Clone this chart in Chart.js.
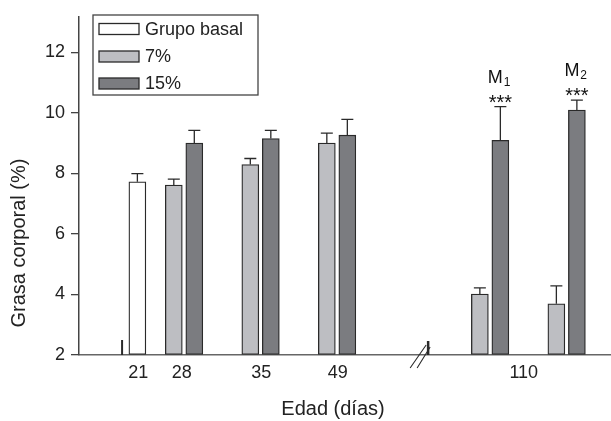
<!DOCTYPE html>
<html><head><meta charset="utf-8">
<script src="https://cdn.jsdelivr.net/npm/chart.js@4/dist/chart.umd.min.js"></script>
<style>html,body{margin:0;padding:0;background:#fff}#wrap{width:611px;height:421px}</style>
</head><body><div id="wrap"><canvas id="c" width="611" height="421"></canvas></div>
<script>
// ---- data ----
const seriesNames = ['Grupo basal', '7%', '15%'];
const ageLabels = ['21', '28', '35', '49', '110'];
const treatedGroups = ['28', '35', '49', 'M1', 'M2'];
const basalValue = [7.72];
const basalError = [0.27];
const values7 = [7.61, 8.29, 9.00, 4.01, 3.69];
const errors7 = [0.20, 0.20, 0.33, 0.21, 0.59];
const values15 = [9.00, 9.15, 9.26, 9.09, 10.09];
const errors15 = [0.42, 0.27, 0.52, 1.11, 0.33];
const significance = ['', '', '', '***', '***'];
const groupNote = ['', '', '', 'M', 'M'];
const groupNoteSub = ['', '', '', '1', '2'];
const yTicks = [2, 4, 6, 8, 10, 12];
const yTitle = 'Grasa corporal (%)';
const xTitle = 'Edad (días)';

// ---- layout (ordinal slot positions along the x axis) ----
const basalSlot = [1.39];
const treatedSlot = [2, 3, 4, 6, 7];
const ageLabelSlot = [1.40, 1.97, 3.01, 4.01, 6.44];
const pairOffset = 0.134;
const leftMarkSlot = 1.19;
const breakSlot = 5.19;
const FONT = "'Liberation Sans', Arial, Helvetica, sans-serif";
const INK = '#2a2a2a';

const decor = {
  id: 'decor',
  afterDatasetsDraw(chart) {
    const ctx = chart.ctx, xs = chart.scales.x, ys = chart.scales.y;
    ctx.save();
    ctx.strokeStyle = INK; ctx.lineWidth = 1.3;
    // error bars
    chart.data.datasets.forEach((ds, di) => {
      const meta = chart.getDatasetMeta(di);
      meta.data.forEach((bar, i) => {
        const v = ds.data[i].y, e = ds.errors[i];
        const yTop = ys.getPixelForValue(v), yCap = ys.getPixelForValue(v + e);
        ctx.beginPath();
        ctx.moveTo(bar.x, yTop); ctx.lineTo(bar.x, yCap);
        ctx.moveTo(bar.x - 6, yCap); ctx.lineTo(bar.x + 6, yCap);
        ctx.stroke();
      });
    });
    // significance + group notes above the 15% bars
    const meta15 = chart.getDatasetMeta(2);
    meta15.data.forEach((bar, i) => {
      if (!significance[i]) return;
      const yCap = ys.getPixelForValue(values15[i] + errors15[i]);
      ctx.fillStyle = '#111';
      ctx.textAlign = 'center'; ctx.textBaseline = 'alphabetic';
      ctx.font = '20px ' + FONT;
      ctx.fillText(significance[i], bar.x, yCap + 2);
      ctx.font = '18px ' + FONT;
      const mw = ctx.measureText(groupNote[i]).width;
      ctx.textAlign = 'left';
      const mx = bar.x - 2 - mw / 2 - 3;
      ctx.fillText(groupNote[i], mx, yCap - 24);
      ctx.font = '12px ' + FONT;
      ctx.fillText(groupNoteSub[i], mx + mw + 1, yCap - 21);
    });
    ctx.restore();
  },
  afterDraw(chart) {
    const ctx = chart.ctx, xs = chart.scales.x, ys = chart.scales.y;
    const base = ys.getPixelForValue(2);
    ctx.save();
    ctx.strokeStyle = INK;
    // small marks on axis
    ctx.lineWidth = 2;
    const lx = xs.getPixelForValue(leftMarkSlot);
    ctx.beginPath(); ctx.moveTo(lx, base); ctx.lineTo(lx, base - 15); ctx.stroke();
    const bx = xs.getPixelForValue(breakSlot);
    ctx.lineWidth = 2.5;
    ctx.beginPath(); ctx.moveTo(bx, base); ctx.lineTo(bx, base - 14); ctx.stroke();
    // break "//"
    ctx.lineWidth = 1.1;
    ctx.beginPath();
    ctx.moveTo(bx - 18, base + 13); ctx.lineTo(bx - 2, base - 10);
    ctx.moveTo(bx - 11, base + 13); ctx.lineTo(bx + 2, base - 8);
    ctx.stroke();
    // axis titles
    ctx.fillStyle = '#222';
    ctx.font = '20px ' + FONT;
    ctx.textAlign = 'center'; ctx.textBaseline = 'middle';
    ctx.fillText(xTitle, 333, 409);
    ctx.translate(19, 243); ctx.rotate(-Math.PI / 2);
    ctx.fillText(yTitle, 0, 0);
    ctx.restore();
    // legend
    ctx.save();
    ctx.strokeStyle = '#444'; ctx.lineWidth = 1.3;
    ctx.strokeRect(93, 15, 165, 80);
    const rowsY = [29, 56.5, 83.5];
    ctx.font = '18px ' + FONT; ctx.textAlign = 'left'; ctx.textBaseline = 'middle';
    chart.data.datasets.forEach((ds, i) => {
      ctx.fillStyle = ds.backgroundColor;
      ctx.fillRect(99, rowsY[i] - 5.5, 40, 11);
      ctx.strokeStyle = INK; ctx.lineWidth = 1.3;
      ctx.strokeRect(99, rowsY[i] - 5.5, 40, 11);
      ctx.fillStyle = '#222';
      ctx.fillText(seriesNames[i], 145, rowsY[i] + 1);
    });
    ctx.restore();
  }
};

new Chart(document.getElementById('c'), {
  type: 'bar',
  data: {
    datasets: [
      { label: seriesNames[0], data: basalValue.map((v, i) => ({ x: basalSlot[i], y: v })), errors: basalError, backgroundColor: '#ffffff' },
      { label: seriesNames[1], data: values7.map((v, i) => ({ x: treatedSlot[i] - pairOffset, y: v })), errors: errors7, backgroundColor: '#bdbec2' },
      { label: seriesNames[2], data: values15.map((v, i) => ({ x: treatedSlot[i] + pairOffset, y: v })), errors: errors15, backgroundColor: '#7b7c80' }
    ]
  },
  options: {
    responsive: false,
    animation: false,
    devicePixelRatio: 1,
    layout: { padding: { top: 15, right: 0, bottom: 0, left: 0 } },
    datasets: { bar: { grouped: false, barThickness: 17, base: 2, borderColor: INK, borderWidth: 1.3, borderSkipped: false } },
    plugins: { legend: { display: false }, tooltip: { enabled: false } },
    scales: {
      x: {
        type: 'linear', offset: false, min: 0.627, max: 7.58,
        afterFit(s) { s.height = 66; },
        afterBuildTicks(s) { s.ticks = ageLabelSlot.map(v => ({ value: v })); },
        ticks: { callback: (v, i) => ageLabels[i], autoSkip: false, maxRotation: 0, padding: 7, color: '#222', font: { size: 18, family: FONT } },
        grid: { display: false, drawTicks: false },
        border: { display: true, color: '#666', width: 1.5 }
      },
      y: {
        min: 2, max: 13.17,
        afterFit(s) { s.width = 79; },
        afterBuildTicks(s) { s.ticks = yTicks.map(v => ({ value: v })); },
        ticks: { padding: 6, color: '#222', font: { size: 18, family: FONT } },
        grid: { drawOnChartArea: false, drawTicks: true, tickLength: 8, color: '#444', lineWidth: 1.3 },
        border: { display: true, color: '#444', width: 1.5 }
      }
    }
  },
  plugins: [decor]
});
</script>
</body></html>
